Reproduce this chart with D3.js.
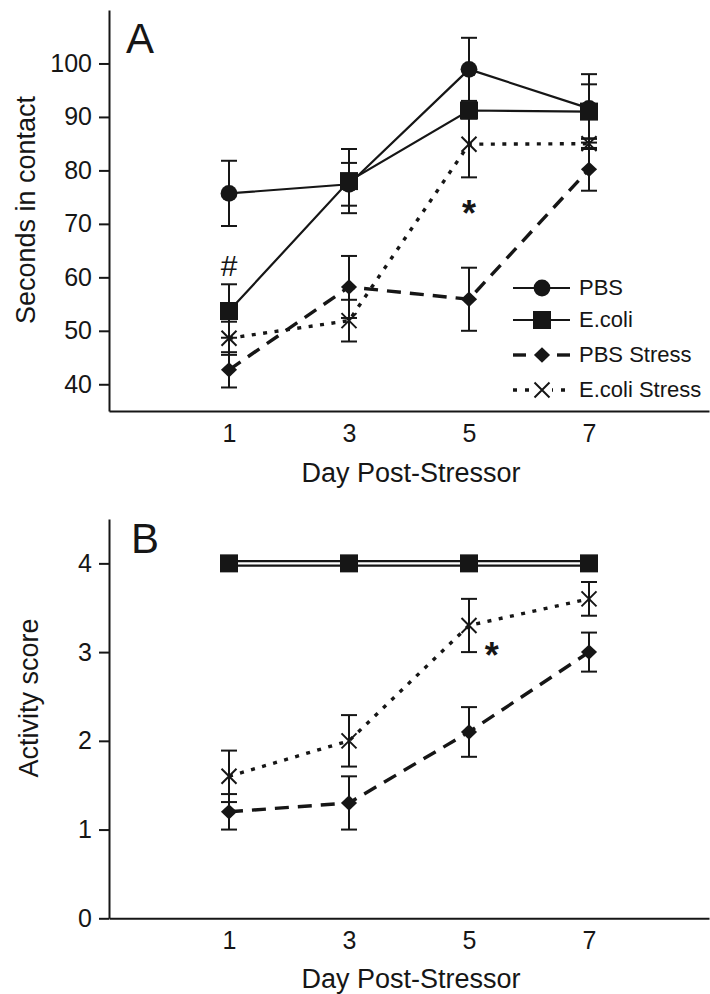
<!DOCTYPE html>
<html><head><meta charset="utf-8">
<script src="https://cdn.jsdelivr.net/npm/d3@7"></script>
<style>
body{margin:0;background:#fff}
svg{display:block}
text{font-family:"Liberation Sans",Arial,Helvetica,sans-serif;fill:#161616}
</style>
</head><body>
<svg id="c" width="710" height="994"></svg>
<script>
// ---------- DATA ----------
const days = [1, 3, 5, 7];
const dayTicks = [1, 3, 5, 7];
const seriesNames = ["PBS", "E.coli", "PBS Stress", "E.coli Stress"];

// Panel A: Seconds in contact (mean, error)
const contactPBS = [75.7, 77.4, 98.9, 91.6];
const contactPBSErr = [6.1, 4.0, 5.9, 6.4];
const contactEcoli = [53.7, 78.0, 91.2, 91.0];
const contactEcoliErr = [5.0, 6.0, 1.5, 5.1];
const contactPBSStress = [42.7, 58.2, 55.9, 80.2];
const contactPBSStressErr = [3.3, 5.8, 5.9, 4.0];
const contactEcoliStress = [48.6, 51.9, 84.9, 85.0];
const contactEcoliStressErr = [3.1, 3.9, 6.2, 1.0];
const contactTicks = [40, 50, 60, 70, 80, 90, 100];

// Panel B: Activity score (mean, error)
const activityPBS = [4, 4, 4, 4];
const activityPBSErr = [0, 0, 0, 0];
const activityEcoli = [4, 4, 4, 4];
const activityEcoliErr = [0, 0, 0, 0];
const activityPBSStress = [1.2, 1.3, 2.1, 3.0];
const activityPBSStressErr = [0.2, 0.3, 0.28, 0.22];
const activityEcoliStress = [1.6, 2.0, 3.3, 3.6];
const activityEcoliStressErr = [0.29, 0.29, 0.3, 0.19];
const activityTicks = [0, 1, 2, 3, 4];

// annotations [label, day, value]
const annotA = [["#", 1, 62.3], ["*", 5, 73.5]];
const annotB = [["*", 5.38, 3.06]];

// ---------- STYLES ----------
const styles = {
  "PBS":           {marker: "circle",  dash: null,    width: 2.2},
  "E.coli":        {marker: "square",  dash: null,    width: 2.2},
  "PBS Stress":    {marker: "diamond", dash: "14,9",  width: 3.4},
  "E.coli Stress": {marker: "times",   dash: "4,7.5", width: 3.4}
};
const ink = "#161616";

const svg = d3.select("#c");
const x = d3.scaleLinear().domain([-1, 9]).range([109, 709]);

function drawMarker(g, type, cx, cy) {
  if (type === "circle") {
    g.append("circle").attr("cx", cx).attr("cy", cy).attr("r", 8.4).attr("fill", ink);
  } else if (type === "square") {
    g.append("path").attr("transform", `translate(${cx},${cy})`)
      .attr("d", d3.symbol(d3.symbolSquare, 324)()).attr("fill", ink);
  } else if (type === "diamond") {
    g.append("path").attr("transform", `translate(${cx},${cy}) scale(1.05,1) rotate(45)`)
      .attr("d", d3.symbol(d3.symbolSquare, 118)()).attr("fill", ink);
  } else if (type === "times") {
    g.append("path").attr("transform", `translate(${cx},${cy})`)
      .attr("d", "M-7.5,-7.5L7.5,7.5M-7.5,7.5L7.5,-7.5")
      .attr("stroke", ink).attr("stroke-width", 2).attr("fill", "none");
  }
}

function panel(opts) {
  const y = d3.scaleLinear().domain(opts.yDomain).range(opts.yRange);
  const g = svg.append("g");

  // axes
  const ya = g.append("g").attr("transform", `translate(${x.range()[0]},0)`)
    .call(d3.axisLeft(y).tickValues(opts.yTicks).tickFormat(d3.format("d"))
      .tickSize(10).tickSizeOuter(0).tickPadding(7));
  const xa = g.append("g").attr("transform", `translate(0,${opts.yRange[0]})`)
    .call(d3.axisBottom(x).tickValues(dayTicks).tickFormat(d3.format("d"))
      .tickSize(0).tickSizeOuter(0).tickPadding(13));
  [ya, xa].forEach(a => {
    a.selectAll("path,line").attr("stroke", ink).attr("stroke-width", 2);
    a.selectAll("text").attr("font-size", 25).attr("fill", ink)
      .style("font-family", '"Liberation Sans",Arial,sans-serif');
  });

  // axis titles
  g.append("text").attr("transform", `translate(${opts.yTitleX},${opts.yTitleY}) rotate(-90)`)
    .attr("text-anchor", "middle").attr("font-size", 27).text(opts.yTitle);
  g.append("text").attr("x", 411).attr("y", opts.xTitleY)
    .attr("text-anchor", "middle").attr("font-size", 27).text("Day Post-Stressor");
  g.append("text").attr("x", opts.letterX).attr("y", opts.letterY)
    .attr("font-size", 42).text(opts.letter);

  const data = seriesNames.map((name, i) => ({
    name, vals: opts.values[i].map((v, j) => ({day: days[j], v, e: opts.errs[i][j]}))
  }));

  const line = d3.line().x(d => x(d.day)).y(d => y(d.v));

  // lines
  data.forEach(s => {
    const st = styles[s.name];
    if (opts.doubleSolid && !st.dash) {
      g.append("path").attr("d", line(s.vals)).attr("fill", "none")
        .attr("stroke", ink).attr("stroke-width", 6.5);
      g.append("path").attr("d", line(s.vals)).attr("fill", "none")
        .attr("stroke", "#fff").attr("stroke-width", 2.2);
    } else {
      g.append("path").attr("d", line(s.vals)).attr("fill", "none")
        .attr("stroke", ink).attr("stroke-width", st.width)
        .attr("stroke-dasharray", st.dash);
    }
  });

  // error bars
  data.forEach(s => {
    s.vals.filter(d => d.e > 0).forEach(d => {
      const cx = x(d.day), y1 = y(d.v + d.e), y2 = y(d.v - d.e);
      const eg = g.append("g").attr("stroke", ink).attr("stroke-width", 2);
      eg.append("line").attr("x1", cx).attr("x2", cx).attr("y1", y1).attr("y2", y2);
      eg.append("line").attr("x1", cx - 8).attr("x2", cx + 8).attr("y1", y1).attr("y2", y1);
      eg.append("line").attr("x1", cx - 8).attr("x2", cx + 8).attr("y1", y2).attr("y2", y2);
    });
  });

  // markers
  data.forEach(s => {
    s.vals.forEach(d => drawMarker(g, styles[s.name].marker, x(d.day), y(d.v)));
  });

  // annotations
  opts.annot.forEach(([t, dday, v]) => {
    const isStar = t === "*";
    g.append("text").attr("x", x(dday)).attr("y", y(v))
      .attr("dy", isStar ? "0.58em" : "0.36em")
      .attr("text-anchor", "middle")
      .attr("font-size", isStar ? 36 : 30)
      .attr("font-weight", isStar ? "bold" : "normal")
      .text(t);
  });

  // legend
  if (opts.legend) {
    const rows = [288, 320, 355, 390];
    seriesNames.forEach((name, i) => {
      const st = styles[name];
      const ly = rows[i];
      if (!st.dash) {
        g.append("line").attr("x1", 513).attr("x2", 570).attr("y1", ly).attr("y2", ly)
          .attr("stroke", ink).attr("stroke-width", 2.2);
      } else if (name === "PBS Stress") {
        [[513, 526], [557, 570]].forEach(([a, b]) =>
          g.append("line").attr("x1", a).attr("x2", b).attr("y1", ly).attr("y2", ly)
            .attr("stroke", ink).attr("stroke-width", 3.4));
      } else {
        g.append("line").attr("x1", 513).attr("x2", 570).attr("y1", ly).attr("y2", ly)
          .attr("stroke", ink).attr("stroke-width", 3.4).attr("stroke-dasharray", "4,8");
        g.append("rect").attr("x", 534).attr("y", ly - 8).attr("width", 18).attr("height", 16).attr("fill", "#fff");
      }
      drawMarker(g, st.marker, 542, ly);
      g.append("text").attr("x", 579).attr("y", ly).attr("dy", "0.34em")
        .attr("font-size", 22).text(name);
    });
  }
}

panel({
  yDomain: [35, 110], yRange: [411, 10], yTicks: contactTicks,
  yTitle: "Seconds in contact", yTitleX: 35, yTitleY: 210, xTitleY: 482,
  letter: "A", letterX: 126, letterY: 53,
  values: [contactPBS, contactEcoli, contactPBSStress, contactEcoliStress],
  errs: [contactPBSErr, contactEcoliErr, contactPBSStressErr, contactEcoliStressErr],
  annot: annotA, legend: true, doubleSolid: false
});

panel({
  yDomain: [0, 4.5], yRange: [918.3, 519], yTicks: activityTicks,
  yTitle: "Activity score", yTitleX: 38, yTitleY: 698, xTitleY: 988,
  letter: "B", letterX: 131, letterY: 553,
  values: [activityPBS, activityEcoli, activityPBSStress, activityEcoliStress],
  errs: [activityPBSErr, activityEcoliErr, activityPBSStressErr, activityEcoliStressErr],
  annot: annotB, legend: false, doubleSolid: true
});
</script>
</body></html>
